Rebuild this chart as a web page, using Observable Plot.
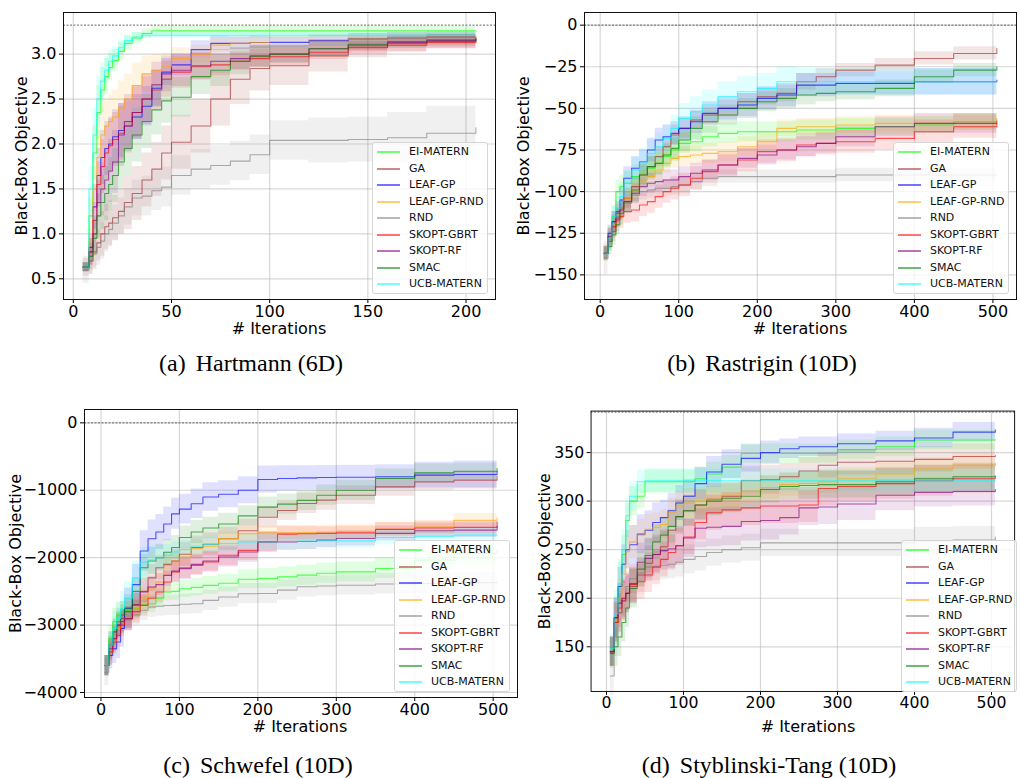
<!DOCTYPE html>
<html><head><meta charset="utf-8">
<script src="https://cdn.jsdelivr.net/npm/d3@7"></script>
<script src="https://cdn.jsdelivr.net/npm/@observablehq/plot@0.6"></script>
<style>
html,body{margin:0;padding:0;background:#fff;overflow:hidden;}
#root{position:relative;width:1020px;height:778px;overflow:hidden;background:#fff;}
.panel{position:absolute;}
.legend{position:absolute;width:116px;height:152px;border:1px solid #d6d6d6;border-radius:3px;background:rgba(255,255,255,0.8);box-sizing:border-box;font-family:"DejaVu Sans";font-size:11px;}
.row{position:absolute;left:0;width:110px;height:14px;line-height:14px;white-space:nowrap;color:#111;}
.sw{position:absolute;left:4px;top:6px;width:23px;height:2px;}
.lab{position:absolute;left:36px;top:0;}
.xlab{position:absolute;font-family:"DejaVu Sans";font-size:16px;line-height:16px;white-space:nowrap;transform:translate(-50%,-50%);color:#000;}
.cap{position:absolute;font-family:"Liberation Serif";font-size:24px;line-height:24px;white-space:nowrap;transform:translateX(-50%);color:#000;}
</style></head>
<body><div id="root"></div>
<script>
const methods = ["EI-MATERN","GA","LEAF-GP","LEAF-GP-RND","RND","SKOPT-GBRT","SKOPT-RF","SMAC","UCB-MATERN"];
const colors = ["#00ff00","#a52a2a","#0000ff","#ffa500","#808080","#ff0000","#800080","#008000","#00ffff"];

// ---------- (a) Hartmann (6D) ----------
const hartmannIter = [5,8,10,12,14,16,18,20,23,26,30,35,40,45,50,60,70,80,90,100,120,140,160,180,205];
const hartmannMean = [
  [0.63,1.2,1.9,2.35,2.6,2.75,2.85,2.93,3.03,3.12,3.18,3.23,3.26,3.26,3.26,3.26,3.26,3.26,3.26,3.26,3.26,3.26,3.26,3.26,3.26],
  [0.63,0.7,0.8,0.9,1.0,1.08,1.12,1.18,1.25,1.35,1.45,1.6,1.72,1.9,2.02,2.2,2.5,2.72,2.84,2.87,2.98,3.08,3.12,3.14,3.18],
  [0.63,0.85,1.3,1.65,1.85,1.95,2.0,2.08,2.15,2.2,2.3,2.42,2.62,2.8,2.88,3.05,3.12,3.12,3.13,3.13,3.15,3.17,3.18,3.19,3.19],
  [0.63,0.9,1.5,1.85,2.1,2.2,2.25,2.3,2.4,2.5,2.65,2.78,2.82,2.86,2.95,3.0,3.1,3.12,3.13,3.14,3.16,3.17,3.18,3.19,3.2],
  [0.6,0.7,0.78,0.85,0.92,1.0,1.05,1.12,1.2,1.3,1.4,1.42,1.48,1.52,1.65,1.72,1.76,1.81,1.88,2.04,2.04,2.05,2.07,2.12,2.18],
  [0.63,0.8,1.15,1.55,1.75,1.9,1.98,2.05,2.12,2.2,2.35,2.5,2.6,2.72,2.8,2.86,2.88,2.92,2.95,2.97,3.02,3.07,3.1,3.13,3.17],
  [0.63,0.8,1.0,1.35,1.5,1.6,1.7,1.8,2.1,2.25,2.35,2.5,2.66,2.78,2.82,2.87,2.92,2.95,2.98,3.0,3.06,3.1,3.13,3.15,3.16],
  [0.63,0.75,0.95,1.2,1.35,1.45,1.55,1.65,1.8,1.95,2.1,2.25,2.38,2.48,2.52,2.75,2.82,2.92,2.97,3.0,3.06,3.11,3.14,3.16,3.18],
  [0.63,1.5,2.1,2.5,2.7,2.82,2.92,2.98,3.07,3.15,3.19,3.21,3.21,3.21,3.21,3.21,3.21,3.21,3.21,3.21,3.21,3.21,3.21,3.21,3.21]
];
const hartmannSpread = [
  [0.05,0.2,0.3,0.3,0.25,0.2,0.15,0.12,0.1,0.08,0.06,0.05,0.05,0.05,0.05,0.05,0.05,0.05,0.05,0.05,0.05,0.05,0.05,0.05,0.05],
  [0.1,0.15,0.2,0.2,0.25,0.25,0.25,0.25,0.25,0.3,0.3,0.3,0.3,0.3,0.3,0.3,0.3,0.28,0.25,0.22,0.18,0.12,0.1,0.08,0.07],
  [0.05,0.15,0.25,0.3,0.3,0.3,0.3,0.3,0.3,0.28,0.25,0.22,0.2,0.15,0.12,0.1,0.08,0.07,0.07,0.06,0.06,0.06,0.06,0.06,0.06],
  [0.05,0.15,0.25,0.3,0.3,0.3,0.3,0.3,0.3,0.28,0.25,0.2,0.18,0.15,0.12,0.1,0.08,0.07,0.07,0.06,0.06,0.06,0.06,0.06,0.06],
  [0.15,0.15,0.15,0.2,0.2,0.2,0.2,0.2,0.2,0.2,0.2,0.22,0.22,0.22,0.22,0.22,0.22,0.22,0.22,0.22,0.25,0.25,0.28,0.3,0.35],
  [0.05,0.15,0.2,0.25,0.3,0.3,0.3,0.3,0.3,0.3,0.28,0.25,0.22,0.2,0.18,0.15,0.12,0.1,0.1,0.1,0.08,0.07,0.07,0.07,0.07],
  [0.05,0.15,0.2,0.25,0.3,0.35,0.35,0.35,0.35,0.3,0.3,0.28,0.25,0.2,0.18,0.15,0.13,0.12,0.12,0.1,0.08,0.07,0.07,0.07,0.07],
  [0.05,0.15,0.2,0.25,0.3,0.3,0.3,0.3,0.3,0.3,0.3,0.3,0.28,0.25,0.22,0.2,0.18,0.15,0.12,0.1,0.08,0.07,0.07,0.06,0.06],
  [0.05,0.25,0.3,0.25,0.2,0.15,0.12,0.1,0.08,0.06,0.05,0.04,0.04,0.04,0.04,0.04,0.04,0.04,0.04,0.04,0.04,0.04,0.04,0.04,0.04]
];

// shared iteration grid for the 10D benchmarks
const longIter = [5,10,15,20,25,30,40,50,60,70,80,90,100,115,130,150,175,200,225,250,275,300,350,400,450,505];

// ---------- (b) Rastrigin (10D) ----------
const rastriginMean = [
  [-137,-127,-115,-100,-97,-95,-91,-89,-86,-83,-79,-75,-71,-70,-67,-65,-64,-64,-64,-63,-63,-62,-61,-60,-58,-57],
  [-137,-130,-124,-116,-110,-104,-97,-90,-85,-79,-73,-66,-62,-57,-54,-50,-46,-43,-41,-34,-31,-27,-24,-20,-17,-14],
  [-137,-125,-118,-112,-105,-92,-86,-82,-75,-69,-67,-65,-62,-58,-53,-50,-48,-44,-42,-36,-36,-35,-35,-34,-34,-33],
  [-137,-128,-120,-114,-110,-104,-99,-93,-91,-87,-83,-80,-79,-78,-77,-76,-73,-70,-62,-61,-61,-60,-59,-59,-58,-56],
  [-140,-130,-121,-115,-110,-107,-102,-100,-99,-98,-98,-97,-96,-94,-92,-91,-91,-91,-91,-91,-91,-90,-90,-90,-90,-90],
  [-137,-128,-121,-117,-115,-112,-111,-108,-106,-103,-100,-98,-96,-92,-88,-84,-81,-76,-75,-72,-71,-70,-68,-64,-61,-58],
  [-137,-127,-118,-113,-111,-106,-101,-97,-95,-94,-93,-93,-91,-89,-87,-84,-80,-78,-75,-73,-71,-67,-61,-59,-59,-59],
  [-137,-133,-126,-120,-113,-106,-99,-90,-85,-83,-78,-74,-69,-62,-58,-54,-50,-46,-44,-42,-41,-40,-38,-31,-27,-25],
  [-137,-128,-115,-110,-103,-95,-87,-82,-77,-73,-68,-62,-56,-52,-48,-43,-40,-38,-34,-34,-34,-34,-34,-34,-34,-34]
];
const rastriginSpread = [
  [4,6,7,7,7,7,7,7,7,7,7,7,6,6,6,6,6,6,6,6,6,6,5,5,5,5],
  [4,5,6,6,6,6,6,6,6,6,6,6,6,5,5,5,5,5,5,5,5,4,4,4,4,4],
  [3,5,6,6,7,7,7,7,7,7,7,7,7,7,7,7,7,7,7,7,7,7,7,8,8,8],
  [4,5,6,6,6,6,6,6,6,6,6,6,6,6,6,6,6,6,5,5,5,5,5,5,5,5],
  [10,6,5,5,5,5,5,5,5,5,5,5,5,5,5,4,4,4,4,4,4,4,4,4,4,4],
  [5,6,7,7,7,7,7,7,7,7,7,7,7,7,7,7,7,7,7,7,7,7,7,7,7,7],
  [4,5,6,6,6,6,6,6,6,6,6,6,6,6,6,6,6,6,6,6,6,6,6,6,6,6],
  [4,5,6,6,7,7,7,7,7,7,7,7,7,7,7,6,6,6,6,6,5,5,5,4,4,4],
  [3,5,6,7,8,8,8,8,8,8,8,8,9,9,9,9,9,9,9,8,8,8,8,8,8,8]
];

// ---------- (c) Schwefel (10D) ----------
const schwefelMean = [
  [-3600,-3200,-2950,-2850,-2800,-2780,-2760,-2700,-2683,-2600,-2510,-2500,-2460,-2440,-2411,-2380,-2320,-2309,-2284,-2259,-2230,-2210,-2160,-2037,-1938,-1889],
  [-3600,-3400,-3200,-3000,-2900,-2800,-2700,-2500,-2300,-2150,-2100,-2050,-1950,-1850,-1800,-1720,-1600,-1400,-1300,-1196,-1147,-1073,-949,-875,-850,-790],
  [-3600,-3450,-3350,-3250,-3050,-2750,-2400,-1900,-1720,-1620,-1500,-1350,-1280,-1200,-1100,-1060,-1000,-840,-826,-816,-811,-808,-800,-776,-766,-717],
  [-3600,-3400,-3200,-3050,-2950,-2900,-2757,-2609,-2450,-2361,-2114,-2050,-1990,-1866,-1830,-1718,-1643,-1632,-1630,-1627,-1620,-1610,-1580,-1543,-1444,-1409],
  [-3700,-3300,-3100,-3000,-2950,-2905,-2850,-2780,-2732,-2720,-2710,-2708,-2690,-2683,-2633,-2584,-2534,-2531,-2482,-2432,-2420,-2408,-2390,-2383,-2370,-2358],
  [-3600,-3400,-3250,-3150,-3000,-2905,-2800,-2708,-2600,-2510,-2361,-2213,-2150,-2114,-2064,-1965,-1891,-1765,-1651,-1645,-1640,-1632,-1580,-1560,-1550,-1533],
  [-3600,-3350,-3200,-3000,-2950,-2905,-2700,-2510,-2436,-2400,-2262,-2200,-2163,-2100,-2050,-1990,-1916,-1765,-1765,-1760,-1740,-1716,-1640,-1600,-1592,-1468],
  [-3600,-3300,-3100,-2950,-2850,-2750,-2500,-2150,-2050,-2000,-1920,-1850,-1700,-1620,-1560,-1500,-1380,-1250,-1206,-1150,-1073,-1000,-826,-742,-717,-677],
  [-3600,-3300,-3050,-2900,-2750,-2600,-2300,-2064,-2030,-2000,-1965,-1916,-1880,-1830,-1800,-1790,-1767,-1765,-1760,-1755,-1750,-1750,-1700,-1680,-1666,-1666]
];
const schwefelSpread = [
  [150,200,200,180,150,130,130,130,130,130,130,130,130,130,130,130,140,150,150,150,150,150,150,150,150,150],
  [150,200,200,200,200,200,200,200,200,180,180,180,180,170,170,170,170,160,150,150,150,140,140,130,130,130],
  [150,200,220,250,280,300,300,300,280,260,250,230,220,220,210,200,200,200,190,180,180,180,180,190,200,210],
  [150,180,180,180,180,180,170,160,150,150,150,140,140,130,120,110,110,100,100,100,100,100,100,100,100,100],
  [200,200,180,170,160,150,150,150,150,150,150,150,150,150,150,150,150,150,150,150,150,150,150,150,150,150],
  [150,180,180,180,180,180,170,160,160,160,160,160,160,150,150,150,150,150,120,110,100,100,100,100,100,100],
  [150,180,180,180,180,180,170,160,160,160,160,160,160,150,150,150,150,150,130,120,110,110,110,110,110,110],
  [150,200,200,200,200,200,200,200,200,200,190,180,170,170,160,160,150,150,150,150,150,150,140,130,120,120],
  [150,200,250,250,250,250,250,220,200,180,160,150,140,130,130,120,120,120,120,120,110,110,110,110,110,110]
];

// ---------- (d) Styblinski-Tang (10D) ----------
const styblinskiMean = [
  [145,177,212,245,280,300,305,320,320,320,320,320,320,323,328,335,349,349,349,349,349,353,356,363,363,363],
  [145,175,185,197,205,212,224,236,245,253,270,284,290,296,302,305,321,322,325,331,337,340,341,343,346,347],
  [145,180,212,235,250,255,266,270,278,283,290,298,305,318,330,338,344,350,354,356,356,359,362,365,371,373.5],
  [145,177,200,225,248,258,265,271,273,276,288,295,298,300,302,306,310,314,317,318,320,323,328,333,337,339],
  [120,160,185,200,212,220,226,232,233,234,235,237,240,243,247,250,252,257,257,257,257,257,257,259,260,263],
  [145,175,190,198,205,214,217,224,232,240,247,254,263,278,288,291,293,295,295,296,313,315,318,321,323,325],
  [145,180,195,200,205,215,237,241,245,249,251,254,262,272,273,274,279,280,283,293,294,297,306,309,310,312],
  [143,150,160,175,190,210,230,244,258,265,274,284,290,296,300,303,305,312,315,316,317,317,320,323,325,326],
  [148,184,215,250,285,305,320,321,321,321,321,321,321,321,321,321,321,321,321,321,321,321,321,321,321,321]
];
const styblinskiSpread = [
  [15,25,25,20,18,15,12,12,12,12,12,12,12,12,12,12,10,10,10,10,10,10,10,10,10,10],
  [15,20,20,20,18,18,18,18,18,18,18,18,16,16,16,15,15,15,14,14,13,13,13,13,13,13],
  [15,20,20,20,20,20,20,20,20,18,18,18,17,17,16,15,14,12,10,10,10,10,10,10,10,8],
  [15,20,20,20,18,17,16,15,15,15,15,15,15,14,14,13,12,12,12,12,12,12,12,12,12,12],
  [20,20,20,18,16,15,15,15,15,15,15,15,15,15,14,14,14,14,14,14,14,14,14,14,14,14],
  [15,20,20,20,20,18,18,18,18,18,18,18,18,18,18,18,18,18,18,18,18,16,16,16,15,15],
  [15,20,20,20,20,20,20,20,20,20,20,20,20,20,20,20,20,20,18,18,18,17,16,15,15,15],
  [15,20,20,20,20,20,18,18,18,18,17,16,16,15,15,15,14,14,14,14,14,14,14,14,14,14],
  [15,25,25,20,18,15,12,12,12,12,12,12,12,12,12,12,12,12,12,12,12,12,12,12,12,12]
];

// known optimum of each benchmark (dashed line)
const optima = [3.32237, 0, 0, 391.66];
const xTicksShort = [0,50,100,150,200];
const xTicksLong = [0,100,200,300,400,500];
const yTicksA = [0.5,1.0,1.5,2.0,2.5,3.0];
const yTicksB = [0,-25,-50,-75,-100,-125,-150];
const yTicksC = [0,-1000,-2000,-3000,-4000];
const yTicksD = [150,200,250,300,350];
const xLabel = "# Iterations";
const yLabel = "Black-Box Objective";
const captions = [["(a)","Hartmann (6D)"],["(b)","Rastrigin (10D)"],["(c)","Schwefel (10D)"],["(d)","Styblinski-Tang (10D)"]];

const minus = d => d < 0 ? "\u2212" + Math.abs(d) : String(d);

function makePanel(cfg) {
  const rows = [];
  methods.forEach((m, k) => cfg.iter.forEach((x, i) => {
    const v = cfg.mean[k][i], s = cfg.spread[k][i];
    rows.push({method: m, x, y: v, lo: v - s, hi: v + s});
  }));
  return Plot.plot({
    width: cfg.width, height: cfg.height,
    marginLeft: cfg.ml, marginRight: cfg.mr, marginTop: cfg.mt, marginBottom: cfg.mb,
    x: {domain: cfg.xDomain},
    y: {domain: cfg.yDomain},
    color: {domain: methods, range: colors},
    style: {fontFamily: "DejaVu Sans", fontSize: "16px", color: "#000", background: "transparent", overflow: "visible"},
    marks: [
      Plot.gridX(cfg.xTicks, {stroke: "#b0b0b0", strokeOpacity: 0.5, strokeWidth: 1.2}),
      Plot.gridY(cfg.yTicks, {stroke: "#b0b0b0", strokeOpacity: 0.5, strokeWidth: 1.2}),
      Plot.areaY(rows, {x: "x", y1: "lo", y2: "hi", fill: "method", fillOpacity: 0.12, curve: "step-after"}),
      Plot.lineY(rows, {x: "x", y: "y", stroke: "method", strokeOpacity: 0.65, strokeWidth: 1.1, curve: "step-after"}),
      Plot.ruleY([cfg.opt], {stroke: "#555", strokeDasharray: "2,1.5", strokeWidth: 0.9}),
      Plot.axisX(cfg.xTicks, {tickSize: 4, tickPadding: 2, label: null, fontSize: 16}),
      Plot.axisY(cfg.yTicks, {tickSize: 4, tickPadding: 3, tickFormat: cfg.yFormat, label: yLabel, labelAnchor: "center", labelArrow: "none", labelOffset: cfg.ylo, fontSize: 16}),
      Plot.frame({stroke: "#111", strokeWidth: 1})
    ]
  });
}

const root = document.getElementById("root");
const panels = [
  {left: 0, top: 0, width: 510, height: 345, ml: 63, mr: 15, mt: 12, mb: 46, iter: hartmannIter, mean: hartmannMean, spread: hartmannSpread,
   xDomain: [-5, 215], yDomain: [0.27, 3.463], xTicks: xTicksShort, yTicks: yTicksA, yFormat: d => d.toFixed(1), opt: optima[0], ylo: 48,
   xlab: [279, 329], legend: [372, 142], cap: [251, 351]},
  {left: 510, top: 0, width: 510, height: 345, ml: 74, mr: 4, mt: 12, mb: 46, iter: longIter, mean: rastriginMean, spread: rastriginSpread,
   xDomain: [-20, 530], yDomain: [-164.8, 7.6], xTicks: xTicksLong, yTicks: yTicksB, yFormat: minus, opt: optima[1], ylo: 67,
   xlab: [800, 329], legend: [893, 142], cap: [762, 351]},
  {left: 0, top: 390, width: 520, height: 345, ml: 84, mr: 3, mt: 19, mb: 38, iter: longIter, mean: schwefelMean, spread: schwefelSpread,
   xDomain: [-21, 531], yDomain: [-4074, 198], xTicks: xTicksLong, yTicks: yTicksC, yFormat: minus, opt: optima[2], ylo: 75,
   xlab: [300, 727], legend: [394, 540], cap: [258, 753]},
  {left: 520, top: 390, width: 510, height: 345, ml: 72, mr: 6, mt: 21, mb: 38, iter: longIter, mean: styblinskiMean, spread: styblinskiSpread,
   xDomain: [-20, 530], yDomain: [104, 392.7], xTicks: xTicksLong, yTicks: yTicksD, yFormat: d => String(d), opt: optima[3], ylo: 53,
   xlab: [808, 727], legend: [901, 540], cap: [769, 753]}
];

panels.forEach((cfg, p) => {
  const wrap = document.createElement("div");
  wrap.className = "panel";
  wrap.style.left = cfg.left + "px";
  wrap.style.top = cfg.top + "px";
  wrap.appendChild(makePanel(cfg));
  root.appendChild(wrap);

  const xl = document.createElement("div");
  xl.className = "xlab";
  xl.style.left = cfg.xlab[0] + "px";
  xl.style.top = cfg.xlab[1] + "px";
  xl.textContent = xLabel;
  root.appendChild(xl);

  const lg = document.createElement("div");
  lg.className = "legend";
  lg.style.left = cfg.legend[0] + "px";
  lg.style.top = cfg.legend[1] + "px";
  methods.forEach((m, k) => {
    const r = document.createElement("div");
    r.className = "row";
    r.style.top = Math.round(2 + k * 16.5) + "px";
    const sw = document.createElement("div");
    sw.className = "sw";
    sw.style.background = colors[k];
    sw.style.opacity = 0.55;
    const t = document.createElement("span");
    t.className = "lab";
    t.textContent = m;
    r.appendChild(sw); r.appendChild(t);
    lg.appendChild(r);
  });
  root.appendChild(lg);

  const cap = document.createElement("div");
  cap.className = "cap";
  cap.style.left = cfg.cap[0] + "px";
  cap.style.top = cfg.cap[1] + "px";
  const s1 = document.createElement("span");
  s1.textContent = captions[p][0];
  s1.style.marginRight = "10px";
  cap.appendChild(s1);
  cap.appendChild(document.createTextNode(captions[p][1]));
  root.appendChild(cap);
});
</script>
</body></html>
